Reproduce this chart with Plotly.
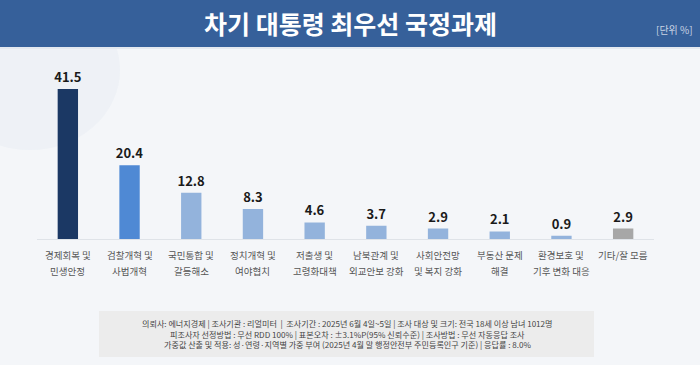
import plotly.graph_objects as go

categories = ["경제회복 및<br>민생안정", "검찰개혁 및<br>사법개혁", "국민통합 및<br>갈등해소", "정치개혁 및<br>여야협치",
              "저출생 및<br>고령화대책", "남북관계 및<br>외교안보 강화", "사회안전망<br>및 복지 강화", "부동산 문제<br>해결",
              "환경보호 및<br>기후 변화 대응", "기타/잘 모름"]
values = [41.5, 20.4, 12.8, 8.3, 4.6, 3.7, 2.9, 2.1, 0.9, 2.9]
bar_colors = ["#1b3864", "#4f89d4", "#93b3dc", "#93b3dc", "#93b3dc", "#93b3dc", "#93b3dc", "#93b3dc", "#93b3dc", "#a7a7a7"]
title_text = "차기 대통령 최우선 국정과제"
unit_text = "[단위 %]"
footer_lines = [
    "의뢰사: 에너지경제 | 조사기관 : 리얼미터  |  조사기간 : 2025년 6월 4일~5일 | 조사 대상 및 크기: 전국 18세 이상 남녀 1012명",
    "피조사자 선정방법 : 무선 RDD 100% | 표본오차 : ±3.1%P(95% 신뢰수준) | 조사방법 : 무선 자동응답 조사",
    "가중값 산출 및 적용: 성·연령·지역별 가중 부여 (2025년 4월 말 행정안전부 주민등록인구 기준) | 응답률 : 8.0%",
]

W, H = 700, 365
FONT = "Noto Sans CJK KR"

def px_x(p):
    return p / W

def px_y(p):  # p measured from top
    return 1 - p / H

fig = go.Figure()
fig.add_trace(go.Bar(
    x=categories, y=values, marker=dict(color=bar_colors, line=dict(width=0)),
    width=0.33,
    text=[f"{v:.1f}" for v in values], textposition="outside", constraintext="none",
    textfont=dict(family=FONT, size=13, color="#1a1a1a", weight="bold"),
    cliponaxis=False, hoverinfo="skip",
))

shapes = [
    dict(type="circle", xref="paper", yref="paper", x0=px_x(-60), x1=px_x(120), y0=px_y(150), y1=px_y(-10),
         fillcolor="rgba(210,220,234,0.18)", line=dict(width=0), layer="below"),
    dict(type="rect", xref="paper", yref="paper", x0=0, x1=1, y0=px_y(47), y1=1,
         fillcolor="#36609a", line=dict(width=0), layer="below"),
    dict(type="rect", xref="paper", yref="paper", x0=0, x1=1, y0=px_y(49), y1=px_y(47),
         fillcolor="#e4e9f0", line=dict(width=0), layer="below"),
    dict(type="rect", xref="paper", yref="paper", x0=px_x(99), x1=px_x(594), y0=px_y(357), y1=px_y(311),
         fillcolor="#ececec", line=dict(width=0), layer="below"),
]

annotations = [
    dict(text=f"<b>{title_text}</b>", xref="paper", yref="paper", x=0.5, y=px_y(23), xanchor="center", yanchor="middle",
         showarrow=False, font=dict(family=FONT, size=25, color="#ffffff")),
    dict(text=unit_text, xref="paper", yref="paper", x=px_x(695), y=px_y(29), xanchor="right", yanchor="middle",
         showarrow=False, font=dict(family=FONT, size=10, color="#c9d4e4")),
]
for i, line in enumerate(footer_lines):
    annotations.append(dict(text=line, xref="paper", yref="paper", x=px_x(347), y=px_y(324 + i * 10.6),
                            xanchor="center", yanchor="middle", showarrow=False,
                            font=dict(family=FONT, size=8.1, color="#444444")))
for cat in categories:
    parts = cat.split("<br>")
    for j, part in enumerate(parts):
        annotations.append(dict(text=part, x=cat, xref="x", y=0, yref="y", yanchor="middle", xanchor="center",
                                yshift=-(16 + 16 * j), showarrow=False,
                                font=dict(family=FONT, size=9.5, color="#555555")))

fig.update_layout(
    width=W, height=H, margin=dict(l=0, r=0, t=0, b=0),
    paper_bgcolor="#f4f6f9", plot_bgcolor="rgba(0,0,0,0)",
    showlegend=False, shapes=shapes, annotations=annotations,
    xaxis=dict(domain=[px_x(37), px_x(654)], range=[-0.5, 9.5], showticklabels=False,
               showline=True, linecolor="#dfe3e8", linewidth=1, showgrid=False, zeroline=False, fixedrange=True),
    yaxis=dict(domain=[1 - 239 / H, 1 - 58.3 / H], range=[0, 50], visible=False, showgrid=False,
               zeroline=False, fixedrange=True),
    font=dict(family=FONT),
)

fig.write_html("out.html", config={"displayModeBar": False},
               post_script="document.body.style.margin='0';document.body.style.overflow='hidden';")
